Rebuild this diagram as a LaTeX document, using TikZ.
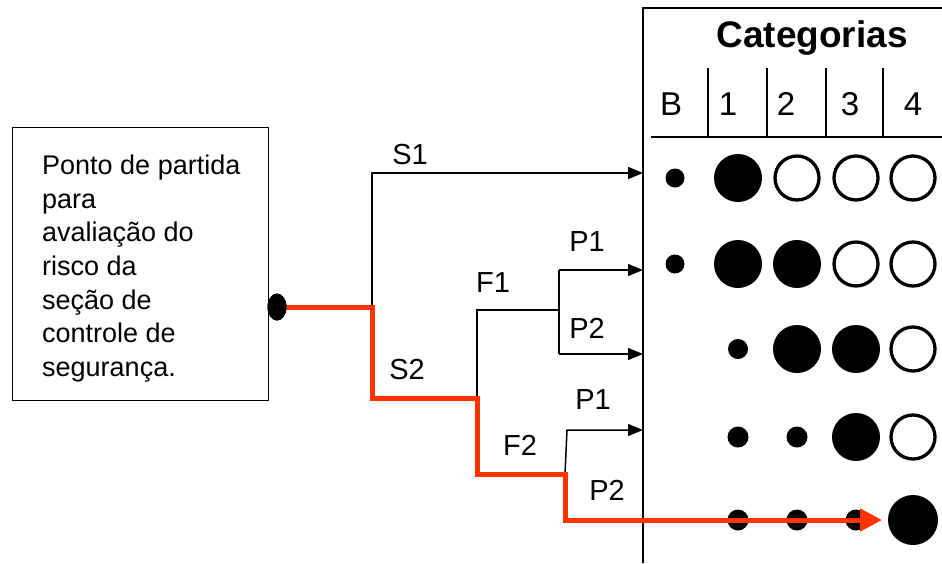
\documentclass[tikz,border=0pt]{standalone}
\usepackage{fontspec}
\setmainfont{Liberation Sans}
\usetikzlibrary{arrows.meta,shapes.geometric}
\definecolor{pathred}{HTML}{FF3300}
\begin{document}
\begin{tikzpicture}[x=1pt,y=-1pt,
  thinln/.style={line width=1.5pt,black},
  thinarrow/.style={thinln,-{Triangle[length=15pt,width=12pt]}},
  redpath/.style={line width=5pt,pathred,line join=miter},
  lbl/.style={font=\fontsize{29}{31}\selectfont,inner sep=0pt},
  hdr/.style={font=\fontsize{33}{35}\selectfont,inner sep=0pt},
  bigfill/.style={circle,fill=black,minimum size=48pt,inner sep=0pt},
  bigopen/.style={circle,draw=black,line width=3.3pt,minimum size=44pt,inner sep=0pt},
  smalldot/.style={circle,fill=black,minimum size=#1,inner sep=0pt},
  smalldot/.default=19pt,
  startdot/.style={ellipse,fill=black,minimum width=19pt,minimum height=27pt,inner sep=0pt}]
\useasboundingbox (0,0) rectangle (942,563);

% start box
\node[draw,line width=1.4pt,minimum width=256pt,minimum height=273pt,anchor=north west,inner sep=0pt] (box) at (12,127) {};
\node[anchor=north west,inner sep=0pt,align=left,font=\fontsize{27}{33.6}\selectfont] (boxtext) at (42,155)
  {Ponto de partida\\para\\avaliação do\\risco da\\seção de\\controle de\\segurança.};
\node[startdot] (start) at (277,307) {};

% panel frame
\coordinate (ptop) at (643,8);
\coordinate (pbot) at (643,563);
\coordinate (pright) at (942,8);
\draw[thinln] (pbot) -- (ptop) -- (pright);
\coordinate (hl) at (651,137);
\coordinate (hr) at (942,137);
\draw[thinln] (hl) -- (hr);
\foreach \x [count=\i] in {708,767,826,883}{
  \coordinate (st\i) at (\x,68);
  \coordinate (sb\i) at (\x,137);
  \draw[thinln] (st\i) -- (sb\i);
}
\node[font=\bfseries\fontsize{37}{39}\selectfont,inner sep=0pt] (cat) at (812,38) {Categorias};
\node[hdr] (hB) at (671,104) {B};
\node[hdr] (h1) at (728,104) {1};
\node[hdr] (h2) at (786,104) {2};
\node[hdr] (h3) at (850,104) {3};
\node[hdr] (h4) at (913,104) {4};

% circles
% row 1
\node[smalldot] (r1b) at (675,178) {};
\node[bigfill] (r1c1) at (738,178) {};
\node[bigopen] (r1c2) at (797,178) {};
\node[bigopen] (r1c3) at (856,178) {};
\node[bigopen] (r1c4) at (913,178) {};
% row 2
\node[smalldot] (r2b) at (675,264) {};
\node[bigfill] (r2c1) at (738,264) {};
\node[bigfill] (r2c2) at (797,264) {};
\node[bigopen] (r2c3) at (856,264) {};
\node[bigopen] (r2c4) at (913,264) {};
% row 3
\node[smalldot=20pt] (r3c1) at (738,349) {};
\node[bigfill] (r3c2) at (797,349) {};
\node[bigfill] (r3c3) at (856,349) {};
\node[bigopen] (r3c4) at (913,349) {};
% row 4
\node[smalldot=21pt] (r4c1) at (738,437) {};
\node[smalldot=21pt] (r4c2) at (797,437) {};
\node[bigfill] (r4c3) at (856,437) {};
\node[bigopen] (r4c4) at (913,437) {};
% row 5
\node[smalldot=21pt] (r5c1) at (738,520) {};
\node[smalldot=21pt] (r5c2) at (797,520) {};
\node[smalldot=21pt] (r5c3) at (856,520) {};
\node[bigfill,minimum size=50pt] (r5c4) at (913,520) {};

% tree coordinates
\coordinate (j0) at (372,307);
\coordinate (s1c) at (372,173);
\coordinate (s1t) at (643,173);
\coordinate (a) at (372,398);
\coordinate (b) at (477,398);
\coordinate (f1c) at (477,310);
\coordinate (f1j) at (559,310);
\coordinate (p1c) at (559,270);
\coordinate (p2c) at (559,354);
\coordinate (p1t) at (643,270);
\coordinate (p2t) at (643,354);
\coordinate (c) at (477,474);
\coordinate (d) at (565,474);
\coordinate (f2c) at (567,430);
\coordinate (f2t) at (643,430);
\coordinate (e) at (565,520);
\coordinate (rend) at (882,520);

% thin branches
\draw[thinarrow] (j0) -- (s1c) -- (s1t);
\draw[thinln] (b) -- (f1c) -- (f1j);
\draw[thinln] (p1c) -- (p2c);
\draw[thinarrow] (p1c) -- (p1t);
\draw[thinarrow] (p2c) -- (p2t);
\draw[thinarrow] (d) -- (f2c) -- (f2t);

% red path
\draw[redpath,-{Triangle[length=22pt,width=22pt]}] (start.center) -- (j0) -- (a) -- (b) -- (c) -- (d) -- (e) -- (rend);
\node[startdot] (startfront) at (start) {};

% labels
\node[lbl] (lS1) at (410,155) {S1};
\node[lbl] (lS2) at (407,370) {S2};
\node[lbl] (lF1) at (493,283) {F1};
\node[lbl] (lF2) at (520,445) {F2};
\node[lbl] (lP1a) at (587,242) {P1};
\node[lbl] (lP2a) at (587,328) {P2};
\node[lbl] (lP1b) at (593,400) {P1};
\node[lbl] (lP2b) at (607,490) {P2};
\end{tikzpicture}
\end{document}
